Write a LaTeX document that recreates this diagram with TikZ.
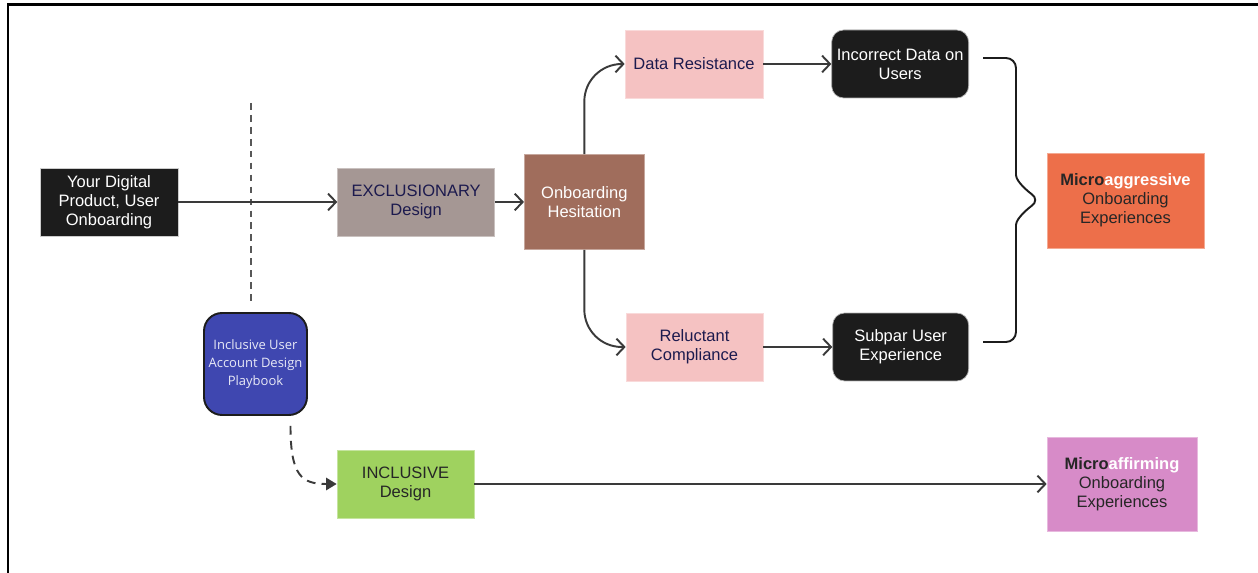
\documentclass[tikz,border=0pt]{standalone}
\usepackage{fontspec}
\setmainfont{Liberation Sans}
\newfontfamily\playfont{Open Sans}
\usetikzlibrary{arrows.meta, positioning}
\definecolor{boxblack}{HTML}{1C1C1C}
\definecolor{exclgray}{HTML}{A59794}
\definecolor{hesbrown}{HTML}{A06D5C}
\definecolor{softpink}{HTML}{F5C2C2}
\definecolor{navytext}{HTML}{1C1A4E}
\definecolor{aggorange}{HTML}{ED6F4A}
\definecolor{playblue}{HTML}{3F47B0}
\definecolor{inclgreen}{HTML}{9FD25F}
\definecolor{affpink}{HTML}{D78BC8}
\definecolor{linegray}{HTML}{3A3A3A}
\definecolor{darktext}{HTML}{262626}

\begin{document}
\begin{tikzpicture}[
    x=0.02cm, y=-0.02cm,
    every node/.style={font=\fontsize{9.4}{10.8}\selectfont},
    blackbox/.style={fill=boxblack, draw=gray!60, line width=0.4pt, text=white, minimum width=2.76cm, minimum height=1.36cm, align=center, inner sep=2pt},
    pinkbox/.style={fill=softpink, draw=softpink!60!white, line width=0.4pt, text=navytext, minimum width=2.76cm, minimum height=1.36cm, align=center, inner sep=2pt},
    outcome/.style={minimum width=3.14cm, minimum height=1.9cm, align=center, text=darktext, line width=0.4pt},
    arrow/.style={-{Straight Barb[length=4.5pt, width=9.5pt]}, draw=linegray, line width=1.1pt},
    dasharrow/.style={-{Triangle[length=6pt, width=7pt]}, draw=linegray, line width=1.1pt, dash pattern=on 5pt off 3.5pt},
    divider/.style={draw=linegray!85, line width=1.3pt, dash pattern=on 3.8pt off 3pt}
]
    \useasboundingbox (0,0) rectangle (1258,573);
    % screenshot frame
    \draw[line width=1.7pt] (8,573) -- (8,5) -- (1258,5);

    % start
    \node[blackbox, draw=gray!40] (src) at (109,202) {Your Digital\\Product, User\\Onboarding};
    \coordinate (divtop) at (251,103);
    \coordinate (divbot) at (251,303);
    \draw[divider] (divtop) -- (divbot);

    % exclusionary path
    \node[fill=exclgray, draw=exclgray!60!white, text=navytext, minimum width=3.14cm, minimum height=1.36cm, align=center, right=3.18cm of src] (excl) {EXCLUSIONARY\\Design};
    \node[fill=hesbrown, draw=hesbrown!60!white, text=white, minimum width=2.4cm, minimum height=1.9cm, align=center, right=0.58cm of excl] (hes) {Onboarding\\Hesitation};
    \node[pinkbox] (dres) at (694,64) {Data Resistance};
    \node[blackbox, rounded corners=0.24cm, minimum width=2.74cm, right=1.36cm of dres] (inc) {Incorrect Data on\\Users};
    \node[pinkbox, minimum width=2.74cm] (rel) at (694.5,347) {Reluctant\\Compliance};
    \node[blackbox, rounded corners=0.24cm, minimum width=2.72cm, right=1.38cm of rel] (sub) {Subpar User\\Experience};
    \node[outcome, fill=aggorange, draw=aggorange!60!white] (micag) at (1125.5,200.5) {\textbf{Micro\textcolor{white}{aggressive}}\\Onboarding\\Experiences};

    % inclusive path
    \node[fill=playblue, draw=boxblack, line width=1.1pt, rounded corners=0.36cm, text=white!88!playblue, minimum width=2.06cm, minimum height=2.04cm, align=center, inner sep=1pt, font=\playfont\fontsize{7.4}{10.2}\selectfont] (play) at (255.5,364) {Inclusive User\\Account Design\\Playbook};
    \node[fill=inclgreen, draw=inclgreen!60!white, text=darktext, minimum width=2.74cm, minimum height=1.36cm, align=center] (incl) at (405.5,484) {INCLUSIVE\\Design};
    \node[outcome, fill=affpink, draw=affpink!60!white, minimum width=3.0cm, minimum height=1.88cm] (micaf) at (1122,484) {\textbf{Micro\textcolor{white}{affirming}}\\Onboarding\\Experiences};

    % arrows
    \draw[arrow] (src) -- (excl);
    \draw[arrow] (excl) -- (hes);
    \draw[arrow, rounded corners=0.75cm] (hes.north) |- (dres.west);
    \draw[arrow, rounded corners=0.75cm] (hes.south) |- (rel.west);
    \draw[arrow] (dres) -- (inc);
    \draw[arrow] (rel) -- (sub);
    \draw[dasharrow] ([xshift=0.7cm, yshift=-0.2cm]play.south) .. controls +(0,50) and +(-35,0) .. (incl.west);
    \draw[arrow] (incl) -- (micaf);

    % brace
    \coordinate (brtop) at ([xshift=0.28cm, yshift=0.12cm]inc.east);
    \coordinate (brbot) at ([xshift=0.28cm, yshift=0.1cm]sub.east);
    \coordinate (brtip) at (1040,200);
    \draw[draw=boxblack, line width=1.1pt, rounded corners=0.2cm]
        (brtop) -- (1016,58) -- (1016,165)
        .. controls (1016,182) and (1030,193) .. (brtip)
        .. controls (1030,207) and (1016,218) .. (1016,235)
        -- (1016,342) -- (brbot);
\end{tikzpicture}
\end{document}
